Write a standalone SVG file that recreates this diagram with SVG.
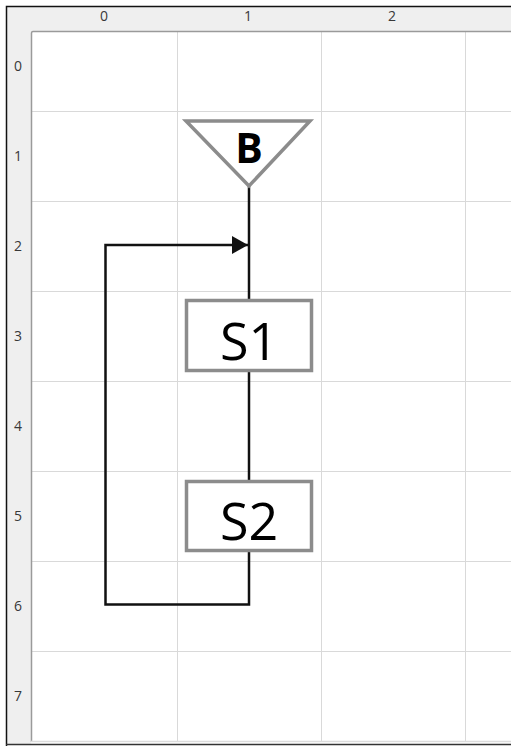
<svg xmlns="http://www.w3.org/2000/svg" width="511" height="746" viewBox="0 0 511 746">
  <style>
    .ruler { fill: #efefef; }
    .rtext { font-family: "Open Sans", "Noto Sans", sans-serif; font-size: 14px; fill: #383838; text-anchor: middle; }
    .grid { stroke: #d9d9d9; stroke-width: 1; fill: none; }
    .shape { fill: #ffffff; stroke: #8c8c8c; stroke-width: 3.5; }
    .label { font-family: "Open Sans", "Noto Sans", sans-serif; fill: #000; text-anchor: middle; }
    .conn { stroke: #111; stroke-width: 2.5; fill: none; }
  </style>
  <defs>
    <marker id="arrow" markerUnits="userSpaceOnUse" markerWidth="18" markerHeight="20" refX="16" refY="9" orient="auto">
      <path d="M0,0 L16,9 L0,18 Z" fill="#111"/>
    </marker>
    <clipPath id="canvasClip">
      <rect x="31" y="31" width="480" height="711"/>
    </clipPath>
  </defs>
  <rect x="0" y="0" width="511" height="746" fill="#ffffff"/>
  <g id="rulers">
    <rect class="ruler" x="6" y="6" width="505" height="25"/>
    <rect class="ruler" x="6" y="6" width="25" height="739"/>
    <text class="rtext" x="104" y="21">0</text>
    <text class="rtext" x="248" y="21">1</text>
    <text class="rtext" x="392" y="21">2</text>
    <text class="rtext" x="18" y="71">0</text>
    <text class="rtext" x="18" y="161">1</text>
    <text class="rtext" x="18" y="251">2</text>
    <text class="rtext" x="18" y="341">3</text>
    <text class="rtext" x="18" y="431">4</text>
    <text class="rtext" x="18" y="521">5</text>
    <text class="rtext" x="18" y="611">6</text>
    <text class="rtext" x="18" y="701">7</text>
  </g>
  <g id="grid" clip-path="url(#canvasClip)">
    <rect x="31" y="31" width="480" height="711" fill="#ffffff"/>
    <path class="grid" d="M177.5,31 V742 M321.5,31 V742 M465.5,31 V742 M31,111.5 H511 M31,201.5 H511 M31,291.5 H511 M31,381.5 H511 M31,471.5 H511 M31,561.5 H511 M31,651.5 H511"/>
  </g>
  <g id="frame">
    <path d="M31.5,742 V33 Q31.5,31.5 33,31.5 H511" fill="none" stroke="#9a9a9a" stroke-width="1.5"/>
    <path d="M31,741.5 H511" stroke="#dcdcdc" stroke-width="1.5"/>
    <path d="M6.5,746 V6.5 H511" fill="none" stroke="#111" stroke-width="1.5"/>
    <path d="M6,744.5 H511" stroke="#333" stroke-width="1.5"/>
  </g>
  <g id="connectors">
    <path class="conn" d="M249,186 V300"/>
    <path class="conn" d="M249,372 V481"/>
    <path class="conn" d="M249,552 V604.5 H105.5 V245 H248" marker-end="url(#arrow)"/>
  </g>
  <g id="node-B">
    <path class="shape" d="M186,121 H310 L249,186 Z" stroke-linejoin="miter"/>
    <text class="label" x="249" y="163" font-size="41" font-weight="bold">B</text>
  </g>
  <g id="node-S1">
    <rect class="shape" x="186.5" y="300.5" width="125" height="70"/>
    <text class="label" x="249" y="360" font-size="52">S1</text>
  </g>
  <g id="node-S2">
    <rect class="shape" x="186.5" y="481.5" width="125" height="69"/>
    <text class="label" x="249" y="540" font-size="52">S2</text>
  </g>
</svg>
